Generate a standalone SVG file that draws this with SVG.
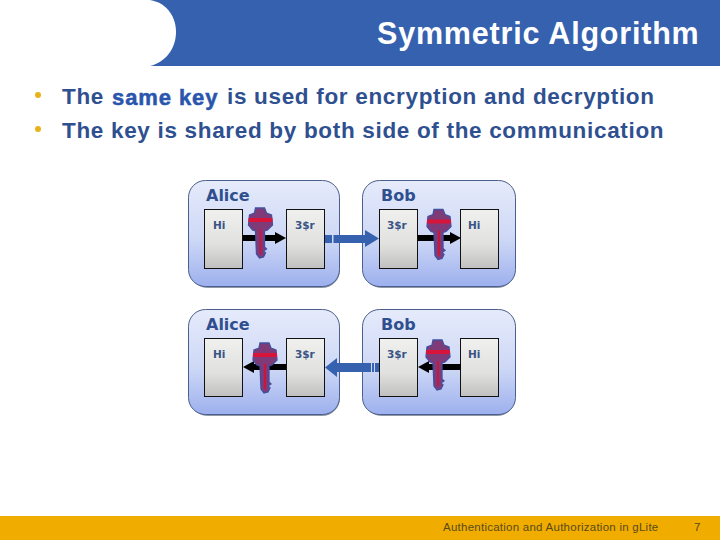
<svg xmlns="http://www.w3.org/2000/svg" width="720" height="540" viewBox="0 0 720 540">
<defs>
<linearGradient id="pg" x1="0" y1="0" x2="0" y2="1"><stop offset="0" stop-color="#e6ebfb"/><stop offset="0.55" stop-color="#ced8f6"/><stop offset="1" stop-color="#9db0ee"/></linearGradient>
<linearGradient id="bg" x1="0" y1="0" x2="0" y2="1"><stop offset="0" stop-color="#f0f0ee"/><stop offset="0.6" stop-color="#e0e0de"/><stop offset="1" stop-color="#c0c0c0"/></linearGradient>
<g id="key">
<path d="M-5 -25 L4 -25 L6 -20 L11 -18 L12 -8 L7 -3 L4 -2 L4 14 L6 16 L3 18 L5 20 L3 24 L-1 25 L-4 21 L-5 -2 L-8 -3 L-12 -8 L-11 -18 L-6 -20 Z" fill="#7f3a78" stroke="#43509f" stroke-width="1.3"/>
<rect x="-12" y="-15" width="24" height="4" fill="#d8143a"/>
<rect x="-1" y="-4" width="2" height="25" fill="#c8163f"/>
</g>
<g id="arrR"><rect x="0" y="-3" width="32" height="6" fill="#000"/><path d="M32 -6 L43 0 L32 6 Z" fill="#000"/></g>
<g id="arrL"><rect x="11" y="-3" width="32" height="6" fill="#000"/><path d="M11 -6 L0 0 L11 6 Z" fill="#000"/></g>
</defs>
<style>
.p{fill:url(#pg);stroke:#4a5f8a;stroke-width:1}
.s{fill:#8f96a8}
.b{fill:url(#bg);stroke:#111;stroke-width:1}
.t{font-family:"DejaVu Sans",sans-serif;fill:#2f4f8f}
.h{font-size:16px;font-weight:bold}
.m{font-size:10.500px;font-weight:bold;fill:#3a5486}
.l{font-family:"Liberation Sans",sans-serif;font-weight:bold;font-size:22.5px;letter-spacing:.68px;fill:#2f5090}
.d{fill:#e8b21a}
</style>
<rect x="0" y="0" width="720" height="66" fill="#3561ae"/>
<path d="M0 0 H150 C168 3 176 18 176 32 C176 48 166 62 150 66 H0 Z" fill="#fff"/>
<text x="377" y="44" font-family="Liberation Sans,sans-serif" font-weight="bold" font-size="30.500" letter-spacing=".8" fill="#fff">Symmetric Algorithm</text>
<circle class="d" cx="38" cy="95" r="3"/>
<circle class="d" cx="38" cy="129" r="3"/>
<text class="l" x="62" y="104">The</text>
<text x="112" y="105" font-family="Liberation Sans,sans-serif" font-weight="bold" font-size="22" letter-spacing=".9" stroke="#2a55ad" stroke-width=".5" fill="#2a55ad">same key</text>
<text class="l" x="227" y="104">is used for encryption and decryption</text>
<text class="l" x="62" y="138">The key is shared by both side of the communication</text>

<g id="alice-top">
<rect class="s" x="190" y="184" width="150" height="104" rx="18"/>
<rect class="p" x="188.500" y="180.500" width="151" height="106" rx="17"/>
<text class="t h" x="206" y="201">Alice</text>
<rect class="b" x="204.500" y="209.500" width="38" height="59"/>
<text class="t m" x="213" y="229">Hi</text>
<rect class="b" x="286.500" y="209.500" width="38" height="59"/>
<text class="t m" x="295" y="229">3$r</text>
</g>
<g id="bob-top">
<rect class="s" x="364" y="184" width="151" height="104" rx="18"/>
<rect class="p" x="362.500" y="180.500" width="153" height="106" rx="17"/>
<text class="t h" x="381" y="201">Bob</text>
<rect class="b" x="379.500" y="209.500" width="38" height="59"/>
<text class="t m" x="387" y="229">3$r</text>
<rect class="b" x="460.500" y="209.500" width="38" height="59"/>
<text class="t m" x="468" y="229">Hi</text>
</g>
<g id="alice-bottom">
<rect class="s" x="190" y="312" width="150" height="104" rx="18"/>
<rect class="p" x="188.500" y="309.500" width="151" height="105" rx="17"/>
<text class="t h" x="206" y="330">Alice</text>
<rect class="b" x="204.500" y="338.500" width="38" height="58"/>
<text class="t m" x="213" y="358">Hi</text>
<rect class="b" x="286.500" y="338.500" width="38" height="58"/>
<text class="t m" x="295" y="358">3$r</text>
</g>
<g id="bob-bottom">
<rect class="s" x="364" y="312" width="151" height="104" rx="18"/>
<rect class="p" x="362.500" y="309.500" width="153" height="105" rx="17"/>
<text class="t h" x="381" y="330">Bob</text>
<rect class="b" x="379.500" y="338.500" width="38" height="58"/>
<text class="t m" x="387" y="358">3$r</text>
<rect class="b" x="460.500" y="338.500" width="38" height="58"/>
<text class="t m" x="468" y="358">Hi</text>
</g>
<g id="connectors">
<use href="#arrR" x="243" y="238"/>
<use href="#arrR" x="418" y="238"/>
<use href="#arrL" x="243" y="367"/>
<use href="#arrL" x="418" y="367"/>
<path d="M325 235 H332 V243 H325 Z M333.500 235 H365 V230 L379 238.500 L365 247 V243 H333.500 Z" fill="#3561ae"/>
<path d="M325 367.500 L337 358 V363 H371 V372 H337 V377 Z" fill="#3561ae"/>
<rect x="372" y="363" width="2" height="9" fill="#3561ae"/>
<rect x="375" y="363" width="4" height="9" fill="#3561ae"/>
</g>
<g id="keys">
<use href="#key" x="260.500" y="233"/>
<use href="#key" x="439" y="234.500"/>
<use href="#key" x="265" y="368"/>
<use href="#key" x="438" y="365"/>
</g>
<g id="footer">
<rect x="0" y="516" width="720" height="24" fill="#f0ad00"/>
<text x="443" y="531" font-family="Liberation Sans,sans-serif" font-size="11.500" letter-spacing=".25" fill="#5a4a1a">Authentication and Authorization in gLite</text>
<text x="694" y="531" font-family="Liberation Sans,sans-serif" font-size="11.500" fill="#5a4a1a">7</text>
</g>
</svg>
